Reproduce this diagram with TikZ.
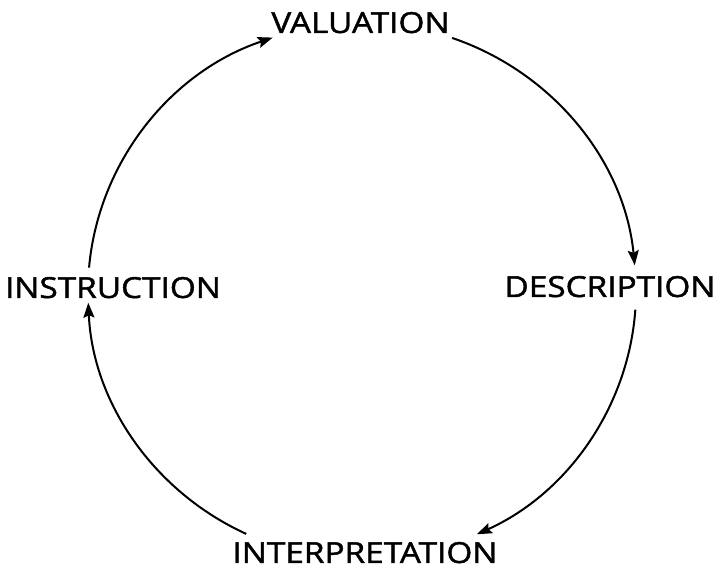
\documentclass[tikz,border=0pt]{standalone}
\usepackage{fontspec}
\setmainfont{Open Sans}
\newfontfamily\lblfont{Open Sans}[FakeStretch=1.15, FakeBold=1.5]
\usetikzlibrary{arrows.meta,calc}
\begin{document}
\begin{tikzpicture}[x=1pt,y=1pt,
  lbl/.style={font=\lblfont\fontsize{29}{31}\selectfont, inner sep=0pt, anchor=base},
  cyc/.style={-{Stealth[length=15pt,width=11pt,inset=2.5pt]}, line width=2pt}]
\useasboundingbox (0,0) rectangle (716,571);
\fill[white] (0,0) rectangle (716,571);
\coordinate (C) at (362,280);
\node[lbl] (val) at (360.5,538) {VALUATION};
\node[lbl] (des) at (610,274) {DESCRIPTION};
\node[lbl] (ins) at (113,273) {INSTRUCTION};
\node[lbl] (int) at (365,8) {INTERPRETATION};
\coordinate (a1) at ($(C)+(70.8:274pt and 268pt)$);
\coordinate (a2) at ($(C)+(-4:274pt and 268pt)$);
\coordinate (a3) at ($(C)+(-115:274pt and 268pt)$);
\coordinate (a4) at ($(C)+(175:274pt and 268pt)$);
\draw[cyc] (a1) arc[start angle=70.8, end angle=5.5, x radius=274pt, y radius=268pt];
\draw[cyc] (a2) arc[start angle=-4, end angle=-65.2, x radius=274pt, y radius=268pt];
\draw[cyc] (a3) arc[start angle=-115, end angle=-177.5, x radius=274pt, y radius=268pt];
\draw[cyc] (a4) arc[start angle=175, end angle=109, x radius=274pt, y radius=268pt];
\end{tikzpicture}
\end{document}
